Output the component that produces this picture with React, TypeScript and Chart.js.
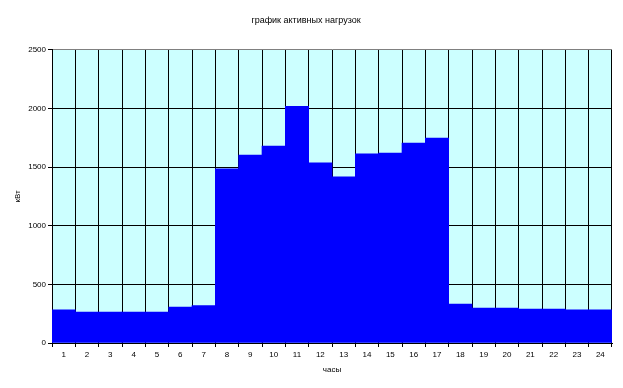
import React, { useEffect, useRef } from "react";
import { Chart, registerables } from "chart.js";

Chart.register(...registerables);

const hours: string[] = ["1","2","3","4","5","6","7","8","9","10","11","12","13","14","15","16","17","18","19","20","21","22","23","24"];
const loadKW: number[] = [283,264,264,264,264,307,318,1485,1603,1680,2019,1536,1417,1612,1620,1705,1748,332,298,298,290,290,283,283];
const titleText = "график активных нагрузок";
const yTitle = "кВт";
const xTitle = "часы";
const yMax = 2500;
const yStep = 500;

const plotBg = {
  id: "plotBg",
  beforeDraw(chart: any) {
    const { ctx, chartArea } = chart;
    if (!chartArea) return;
    ctx.save();
    ctx.fillStyle = "#CCFFFF";
    ctx.fillRect(chartArea.left, chartArea.top, chartArea.right - chartArea.left, chartArea.bottom - chartArea.top);
    ctx.restore();
  },
};

export default function App() {
  const ref = useRef<HTMLCanvasElement>(null);
  useEffect(() => {
    if (!ref.current) return;
    const font = { family: "Arial, 'Liberation Sans', sans-serif", size: 8 };
    const chart = new Chart(ref.current, {
      type: "bar",
      data: {
        labels: hours,
        datasets: [
          {
            data: loadKW,
            backgroundColor: "#0000FF",
            borderWidth: 0,
            barPercentage: 1,
            categoryPercentage: 1,
          },
        ],
      },
      options: {
        responsive: false,
        animation: false,
        devicePixelRatio: 1,
        layout: { padding: { left: 0, right: 11, top: 0, bottom: 0 } },
        plugins: {
          legend: { display: false },
          tooltip: { enabled: false },
          title: {
            display: true,
            text: titleText,
            color: "#000",
            font: { family: "Arial, 'Liberation Sans', sans-serif", size: 9, weight: "normal" },
            padding: { top: 15, bottom: 24 },
          },
        },
        scales: {
          x: {
            grid: {
              offset: true,
              color: (c: any) => (c.index === hours.length ? "#808080" : "#000"),
              tickColor: "#000",
              lineWidth: 1,
              tickLength: 4,
            },
            border: { color: "#000" },
            ticks: { color: "#000", font, padding: 3, maxRotation: 0, autoSkip: false },
            title: { display: true, text: xTitle, color: "#000", font, padding: { top: 0, bottom: 13 } },
            afterFit(scale: any) {
              scale.height = 45;
            },
          },
          y: {
            min: 0,
            max: yMax,
            grid: {
              color: (c: any) => (c.tick && c.tick.value === yMax ? "#808080" : "#000"),
              tickColor: "#000",
              tickLength: 4,
            },
            border: { color: "#000" },
            ticks: { stepSize: yStep, color: "#000", font, padding: 2, callback: (v: any) => String(v) },
            title: { display: true, text: yTitle, color: "#000", font, padding: { top: 13, bottom: 0 } },
            afterFit(scale: any) {
              scale.width = 52;
            },
          },
        },
      },
      plugins: [plotBg],
    });
    return () => chart.destroy();
  }, []);
  return (
    <div style={{ position: "absolute", left: 0, top: 0, width: 623, height: 388, background: "#fff" }}>
      <canvas ref={ref} width={623} height={388} style={{ display: "block" }} />
    </div>
  );
}
